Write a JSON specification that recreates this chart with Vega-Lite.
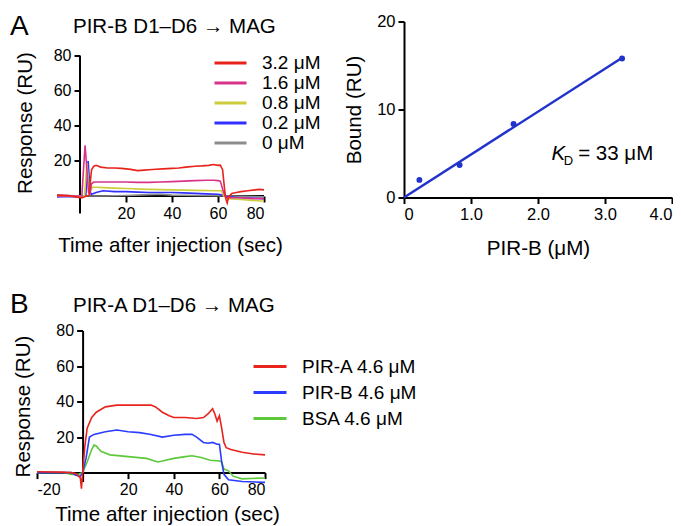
{
  "$schema": "https://vega.github.io/schema/vega-lite/v6.json",
  "padding": {"left": 10, "top": 12.5, "right": 0, "bottom": 0},
  "background": "white",
  "config": {
    "font": "Liberation Sans",
    "view": {"stroke": null},
    "axis": {"labelFont": "Liberation Sans", "labelFontSize": 16, "titleFont": "Liberation Sans", "titleFontSize": 20.6, "titleFontWeight": "normal", "labelColor": "black", "titleColor": "black", "domainColor": "black", "domainWidth": 2, "tickColor": "black", "tickWidth": 2, "tickSize": 6, "grid": false, "labelPadding": 3},
    "legend": {"labelFont": "Liberation Sans", "labelFontSize": 19, "labelColor": "black", "symbolType": "M-2,0H2", "symbolStrokeWidth": 3, "labelOffset": 22},
    "title": {"font": "Liberation Sans", "fontWeight": "normal", "color": "black", "offset": 0, "baseline": "alphabetic", "anchor": "start", "frame": "group"}
  },
  "bounds": "flush",
  "spacing": 309,
  "resolve": {"scale": {"color": "independent", "x": "independent", "y": "independent"}, "legend": {"color": "independent"}},
  "vconcat": [
    {
      "title": {"text": "A", "fontSize": 28, "dx": -27, "dy": 31},
      "bounds": "flush",
      "spacing": 140,
      "resolve": {"scale": {"color": "independent", "x": "independent", "y": "independent"}, "legend": {"color": "independent"}},
      "hconcat": [
        {
          "width": 227,
          "height": 192,
          "title": {"text": "PIR-B D1–D6 → MAG", "fontSize": 20.5, "dx": 36, "dy": 20},
          "layer": [
            {
              "data": {"values": [{}]},
              "mark": {"type": "rule", "color": "black", "strokeWidth": 2},
              "encoding": {"x": {"datum": -10, "type": "quantitative"}, "x2": {"datum": 80}, "y": {"datum": 0, "type": "quantitative"}}
            },
            {
              "data": {"values": [{}]},
              "mark": {"type": "rule", "color": "black", "strokeWidth": 2},
              "encoding": {"x": {"datum": 0, "type": "quantitative"}, "y": {"datum": -10, "type": "quantitative"}, "y2": {"datum": 80}}
            },
            {
              "data": {"values": [
                {"s": "0 μM", "t": -10, "v": 0.5}, {"s": "0 μM", "t": -5, "v": 0.2}, {"s": "0 μM", "t": 0, "v": 0}, {"s": "0 μM", "t": 5, "v": 0}, {"s": "0 μM", "t": 10, "v": 0}, {"s": "0 μM", "t": 20, "v": 0.3}, {"s": "0 μM", "t": 30, "v": 0.8}, {"s": "0 μM", "t": 35, "v": 1}, {"s": "0 μM", "t": 40, "v": 0.5}, {"s": "0 μM", "t": 50, "v": 0.3}, {"s": "0 μM", "t": 60, "v": 0.2}, {"s": "0 μM", "t": 65, "v": 0}, {"s": "0 μM", "t": 80, "v": -0.5},
                {"s": "0.2 μM", "t": -10, "v": -0.5}, {"s": "0.2 μM", "t": -5, "v": -0.3}, {"s": "0.2 μM", "t": 0, "v": -0.5}, {"s": "0.2 μM", "t": 2.5, "v": 0}, {"s": "0.2 μM", "t": 3.5, "v": 20}, {"s": "0.2 μM", "t": 4.5, "v": 2}, {"s": "0.2 μM", "t": 5, "v": 1}, {"s": "0.2 μM", "t": 7, "v": 2}, {"s": "0.2 μM", "t": 10, "v": 3}, {"s": "0.2 μM", "t": 15, "v": 2.5}, {"s": "0.2 μM", "t": 20, "v": 2.5}, {"s": "0.2 μM", "t": 25, "v": 2.2}, {"s": "0.2 μM", "t": 30, "v": 2}, {"s": "0.2 μM", "t": 35, "v": 2}, {"s": "0.2 μM", "t": 40, "v": 2}, {"s": "0.2 μM", "t": 45, "v": 1.8}, {"s": "0.2 μM", "t": 50, "v": 1.5}, {"s": "0.2 μM", "t": 55, "v": 1.2}, {"s": "0.2 μM", "t": 60, "v": 1}, {"s": "0.2 μM", "t": 62, "v": 0.5}, {"s": "0.2 μM", "t": 64, "v": -0.5}, {"s": "0.2 μM", "t": 70, "v": -1}, {"s": "0.2 μM", "t": 80, "v": -1.5},
                {"s": "0.8 μM", "t": -10, "v": 0}, {"s": "0.8 μM", "t": 0, "v": 0}, {"s": "0.8 μM", "t": 2, "v": 0}, {"s": "0.8 μM", "t": 3, "v": 19}, {"s": "0.8 μM", "t": 4, "v": 4}, {"s": "0.8 μM", "t": 4.5, "v": 3}, {"s": "0.8 μM", "t": 5.5, "v": 5}, {"s": "0.8 μM", "t": 7, "v": 5}, {"s": "0.8 μM", "t": 10, "v": 4.8}, {"s": "0.8 μM", "t": 15, "v": 4.5}, {"s": "0.8 μM", "t": 20, "v": 4.3}, {"s": "0.8 μM", "t": 30, "v": 3.8}, {"s": "0.8 μM", "t": 40, "v": 3.5}, {"s": "0.8 μM", "t": 50, "v": 3.2}, {"s": "0.8 μM", "t": 60, "v": 3}, {"s": "0.8 μM", "t": 61.5, "v": 3}, {"s": "0.8 μM", "t": 62.5, "v": 0}, {"s": "0.8 μM", "t": 64, "v": -1.5}, {"s": "0.8 μM", "t": 70, "v": -2}, {"s": "0.8 μM", "t": 75, "v": -2.5}, {"s": "0.8 μM", "t": 80, "v": -3},
                {"s": "1.6 μM", "t": -10, "v": 0}, {"s": "1.6 μM", "t": -3, "v": 0}, {"s": "1.6 μM", "t": 0.8, "v": 0}, {"s": "1.6 μM", "t": 1.5, "v": 15}, {"s": "1.6 μM", "t": 2.2, "v": 29}, {"s": "1.6 μM", "t": 3, "v": 15}, {"s": "1.6 μM", "t": 3.7, "v": 2}, {"s": "1.6 μM", "t": 4.3, "v": 1}, {"s": "1.6 μM", "t": 5, "v": 7}, {"s": "1.6 μM", "t": 6, "v": 8}, {"s": "1.6 μM", "t": 10, "v": 8}, {"s": "1.6 μM", "t": 15, "v": 8}, {"s": "1.6 μM", "t": 20, "v": 8}, {"s": "1.6 μM", "t": 25, "v": 7.8}, {"s": "1.6 μM", "t": 30, "v": 7.8}, {"s": "1.6 μM", "t": 35, "v": 8}, {"s": "1.6 μM", "t": 40, "v": 8.2}, {"s": "1.6 μM", "t": 45, "v": 8.5}, {"s": "1.6 μM", "t": 50, "v": 8.8}, {"s": "1.6 μM", "t": 55, "v": 9}, {"s": "1.6 μM", "t": 58, "v": 9}, {"s": "1.6 μM", "t": 60, "v": 8.8}, {"s": "1.6 μM", "t": 61, "v": 8.5}, {"s": "1.6 μM", "t": 62, "v": 4}, {"s": "1.6 μM", "t": 63, "v": 0}, {"s": "1.6 μM", "t": 64, "v": -1}, {"s": "1.6 μM", "t": 70, "v": -1}, {"s": "1.6 μM", "t": 75, "v": -1.5}, {"s": "1.6 μM", "t": 80, "v": -1.5},
                {"s": "3.2 μM", "t": -10, "v": 0.5}, {"s": "3.2 μM", "t": -5, "v": 0.2}, {"s": "3.2 μM", "t": -2, "v": -0.5}, {"s": "3.2 μM", "t": 0, "v": -1}, {"s": "3.2 μM", "t": 1, "v": -1}, {"s": "3.2 μM", "t": 2, "v": -0.5}, {"s": "3.2 μM", "t": 3, "v": 0}, {"s": "3.2 μM", "t": 4, "v": 0.5}, {"s": "3.2 μM", "t": 4.5, "v": 8}, {"s": "3.2 μM", "t": 5, "v": 15}, {"s": "3.2 μM", "t": 6, "v": 17}, {"s": "3.2 μM", "t": 7, "v": 17.5}, {"s": "3.2 μM", "t": 9, "v": 16.5}, {"s": "3.2 μM", "t": 12, "v": 16}, {"s": "3.2 μM", "t": 15, "v": 16}, {"s": "3.2 μM", "t": 18, "v": 15.8}, {"s": "3.2 μM", "t": 20, "v": 15.5}, {"s": "3.2 μM", "t": 22, "v": 15.2}, {"s": "3.2 μM", "t": 25, "v": 14.5}, {"s": "3.2 μM", "t": 28, "v": 14.8}, {"s": "3.2 μM", "t": 30, "v": 15}, {"s": "3.2 μM", "t": 33, "v": 15.3}, {"s": "3.2 μM", "t": 36, "v": 15.5}, {"s": "3.2 μM", "t": 40, "v": 15.8}, {"s": "3.2 μM", "t": 43, "v": 16}, {"s": "3.2 μM", "t": 46, "v": 16.5}, {"s": "3.2 μM", "t": 50, "v": 17}, {"s": "3.2 μM", "t": 53, "v": 17.2}, {"s": "3.2 μM", "t": 56, "v": 17.5}, {"s": "3.2 μM", "t": 58, "v": 18}, {"s": "3.2 μM", "t": 60, "v": 17.5}, {"s": "3.2 μM", "t": 61, "v": 17.6}, {"s": "3.2 μM", "t": 62, "v": 15}, {"s": "3.2 μM", "t": 63, "v": 2}, {"s": "3.2 μM", "t": 63.5, "v": -2}, {"s": "3.2 μM", "t": 64, "v": -4}, {"s": "3.2 μM", "t": 64.5, "v": -1}, {"s": "3.2 μM", "t": 65, "v": 0}, {"s": "3.2 μM", "t": 66, "v": 1.5}, {"s": "3.2 μM", "t": 68, "v": 2}, {"s": "3.2 μM", "t": 70, "v": 2.5}, {"s": "3.2 μM", "t": 73, "v": 3}, {"s": "3.2 μM", "t": 76, "v": 3.5}, {"s": "3.2 μM", "t": 78, "v": 3.8}, {"s": "3.2 μM", "t": 80, "v": 3.5}
              ]},
              "mark": {"type": "line", "strokeWidth": 1.6},
              "encoding": {
                "x": {"field": "t", "type": "quantitative", "scale": {"domain": [-18.7, 80], "nice": false}, "axis": {"values": [20, 40, 60, 80], "domain": false, "offset": -17.5, "title": "Time after injection (sec)", "titleX": 133, "titlePadding": 14}},
                "y": {"field": "v", "type": "quantitative", "scale": {"domain": [-10, 99.7], "nice": false}, "axis": {"values": [20, 40, 60, 80], "domain": false, "offset": -43, "title": "Response (RU)", "titleY": 101, "titlePadding": 18}},
                "color": {"field": "s", "type": "nominal", "scale": {"domain": ["3.2 μM", "1.6 μM", "0.8 μM", "0.2 μM", "0 μM"], "range": ["#e8231b", "#d8338a", "#cccc3c", "#3030ff", "#8c8c8c"]}, "legend": {"title": null, "orient": "none", "legendX": 184, "legendY": 32, "symbolSize": 256, "rowPadding": -1}}
              }
            }
          ]
        },
        {
          "width": 268,
          "height": 176,
          "layer": [
            {
              "data": {"values": [{"c": 0, "b": 0}, {"c": 3.25, "b": 15.85}]},
              "mark": {"type": "line", "color": "#2233cc", "strokeWidth": 2.5},
              "encoding": {
                "x": {"field": "c", "type": "quantitative", "scale": {"domain": [0, 4], "nice": false}, "axis": {"values": [0, 1, 2, 3, 4], "labelFontSize": 16.5, "labelExpr": "datum.value == 0 ? '0' : format(datum.value, '.1f')", "title": "PIR-B (μM)", "titlePadding": 15}},
                "y": {"field": "b", "type": "quantitative", "scale": {"domain": [0, 20], "nice": false}, "axis": {"values": [0, 10, 20], "labelFontSize": 16.5, "title": "Bound (RU)", "titlePadding": 12}}
              }
            },
            {
              "data": {"values": [{"c": 0.23, "b": 2.0}, {"c": 0.83, "b": 3.7}, {"c": 1.635, "b": 8.35}, {"c": 3.255, "b": 15.8}]},
              "mark": {"type": "circle", "color": "#2233cc", "size": 35, "opacity": 1},
              "encoding": {"x": {"field": "c", "type": "quantitative"}, "y": {"field": "b", "type": "quantitative"}}
            },
            {
              "data": {"values": [{}]},
              "mark": {"type": "text", "text": "K", "fontStyle": "italic", "fontSize": 20.5, "align": "left", "baseline": "middle", "color": "black"},
              "encoding": {"x": {"datum": 2.2, "type": "quantitative"}, "y": {"datum": 5.0, "type": "quantitative"}}
            },
            {
              "data": {"values": [{}]},
              "mark": {"type": "text", "text": "D", "fontSize": 13, "align": "left", "baseline": "middle", "color": "black"},
              "encoding": {"x": {"datum": 2.385, "type": "quantitative"}, "y": {"datum": 4.2, "type": "quantitative"}}
            },
            {
              "data": {"values": [{}]},
              "mark": {"type": "text", "text": "= 33 μM", "fontSize": 20.5, "align": "left", "baseline": "middle", "color": "black"},
              "encoding": {"x": {"datum": 2.6, "type": "quantitative"}, "y": {"datum": 5.0, "type": "quantitative"}}
            }
          ]
        }
      ]
    },
    {
      "title": {"text": "B", "fontSize": 28, "dx": -27, "dy": 27},
      "bounds": "flush",
      "hconcat": [
        {
          "width": 228,
          "height": 151,
          "title": {"text": "PIR-A D1–D6 → MAG", "fontSize": 20.5, "dx": 36, "dy": -2},
          "data": {"values": [
            {"s": "BSA 4.6 μM", "t": -20, "v": 0}, {"s": "BSA 4.6 μM", "t": -8, "v": 0}, {"s": "BSA 4.6 μM", "t": -5, "v": -1}, {"s": "BSA 4.6 μM", "t": -2, "v": -1}, {"s": "BSA 4.6 μM", "t": 0, "v": 0}, {"s": "BSA 4.6 μM", "t": 2, "v": 6}, {"s": "BSA 4.6 μM", "t": 4, "v": 13}, {"s": "BSA 4.6 μM", "t": 5, "v": 15.5}, {"s": "BSA 4.6 μM", "t": 6, "v": 15}, {"s": "BSA 4.6 μM", "t": 8, "v": 12}, {"s": "BSA 4.6 μM", "t": 12, "v": 10}, {"s": "BSA 4.6 μM", "t": 20, "v": 9}, {"s": "BSA 4.6 μM", "t": 28, "v": 8}, {"s": "BSA 4.6 μM", "t": 33, "v": 6}, {"s": "BSA 4.6 μM", "t": 35, "v": 6.5}, {"s": "BSA 4.6 μM", "t": 40, "v": 8}, {"s": "BSA 4.6 μM", "t": 45, "v": 9}, {"s": "BSA 4.6 μM", "t": 48, "v": 9.5}, {"s": "BSA 4.6 μM", "t": 52, "v": 8.5}, {"s": "BSA 4.6 μM", "t": 56, "v": 7}, {"s": "BSA 4.6 μM", "t": 60, "v": 6.5}, {"s": "BSA 4.6 μM", "t": 61, "v": 6}, {"s": "BSA 4.6 μM", "t": 62, "v": 2}, {"s": "BSA 4.6 μM", "t": 64, "v": 1}, {"s": "BSA 4.6 μM", "t": 66, "v": -2}, {"s": "BSA 4.6 μM", "t": 70, "v": -3.5}, {"s": "BSA 4.6 μM", "t": 80, "v": -3},
            {"s": "PIR-B 4.6 μM", "t": -20, "v": 0}, {"s": "PIR-B 4.6 μM", "t": -5, "v": 0}, {"s": "PIR-B 4.6 μM", "t": -3, "v": -1.5}, {"s": "PIR-B 4.6 μM", "t": -1, "v": -2}, {"s": "PIR-B 4.6 μM", "t": 0, "v": 0}, {"s": "PIR-B 4.6 μM", "t": 1.5, "v": 8}, {"s": "PIR-B 4.6 μM", "t": 3, "v": 20}, {"s": "PIR-B 4.6 μM", "t": 5, "v": 21.5}, {"s": "PIR-B 4.6 μM", "t": 10, "v": 23}, {"s": "PIR-B 4.6 μM", "t": 15, "v": 24}, {"s": "PIR-B 4.6 μM", "t": 20, "v": 23}, {"s": "PIR-B 4.6 μM", "t": 25, "v": 22.5}, {"s": "PIR-B 4.6 μM", "t": 30, "v": 21.5}, {"s": "PIR-B 4.6 μM", "t": 35, "v": 20}, {"s": "PIR-B 4.6 μM", "t": 40, "v": 21}, {"s": "PIR-B 4.6 μM", "t": 45, "v": 21.5}, {"s": "PIR-B 4.6 μM", "t": 48, "v": 21.5}, {"s": "PIR-B 4.6 μM", "t": 50, "v": 20}, {"s": "PIR-B 4.6 μM", "t": 53, "v": 17}, {"s": "PIR-B 4.6 μM", "t": 55, "v": 16.5}, {"s": "PIR-B 4.6 μM", "t": 57, "v": 17}, {"s": "PIR-B 4.6 μM", "t": 59, "v": 16}, {"s": "PIR-B 4.6 μM", "t": 60, "v": 16}, {"s": "PIR-B 4.6 μM", "t": 61, "v": 6}, {"s": "PIR-B 4.6 μM", "t": 62, "v": -1}, {"s": "PIR-B 4.6 μM", "t": 64, "v": -4}, {"s": "PIR-B 4.6 μM", "t": 70, "v": -5}, {"s": "PIR-B 4.6 μM", "t": 80, "v": -5.5},
            {"s": "PIR-A 4.6 μM", "t": -20, "v": 0.5}, {"s": "PIR-A 4.6 μM", "t": -10, "v": 0.3}, {"s": "PIR-A 4.6 μM", "t": -5, "v": 0}, {"s": "PIR-A 4.6 μM", "t": -3, "v": -0.5}, {"s": "PIR-A 4.6 μM", "t": -1, "v": -3}, {"s": "PIR-A 4.6 μM", "t": -0.5, "v": -9}, {"s": "PIR-A 4.6 μM", "t": 0, "v": 0}, {"s": "PIR-A 4.6 μM", "t": 1, "v": 15}, {"s": "PIR-A 4.6 μM", "t": 2, "v": 25}, {"s": "PIR-A 4.6 μM", "t": 4, "v": 31}, {"s": "PIR-A 4.6 μM", "t": 6, "v": 34}, {"s": "PIR-A 4.6 μM", "t": 10, "v": 37}, {"s": "PIR-A 4.6 μM", "t": 15, "v": 38}, {"s": "PIR-A 4.6 μM", "t": 20, "v": 38}, {"s": "PIR-A 4.6 μM", "t": 30, "v": 38}, {"s": "PIR-A 4.6 μM", "t": 32, "v": 37}, {"s": "PIR-A 4.6 μM", "t": 35, "v": 34}, {"s": "PIR-A 4.6 μM", "t": 38, "v": 32}, {"s": "PIR-A 4.6 μM", "t": 40, "v": 31}, {"s": "PIR-A 4.6 μM", "t": 45, "v": 31}, {"s": "PIR-A 4.6 μM", "t": 50, "v": 30.5}, {"s": "PIR-A 4.6 μM", "t": 53, "v": 31}, {"s": "PIR-A 4.6 μM", "t": 55, "v": 33}, {"s": "PIR-A 4.6 μM", "t": 57, "v": 36}, {"s": "PIR-A 4.6 μM", "t": 58, "v": 33}, {"s": "PIR-A 4.6 μM", "t": 59, "v": 29}, {"s": "PIR-A 4.6 μM", "t": 60, "v": 32}, {"s": "PIR-A 4.6 μM", "t": 61, "v": 25}, {"s": "PIR-A 4.6 μM", "t": 62, "v": 17}, {"s": "PIR-A 4.6 μM", "t": 63, "v": 14}, {"s": "PIR-A 4.6 μM", "t": 65, "v": 13}, {"s": "PIR-A 4.6 μM", "t": 70, "v": 11.5}, {"s": "PIR-A 4.6 μM", "t": 75, "v": 10.5}, {"s": "PIR-A 4.6 μM", "t": 80, "v": 10}
          ]},
          "mark": {"type": "line", "strokeWidth": 1.6},
          "encoding": {
            "x": {"field": "t", "type": "quantitative", "scale": {"domain": [-20, 80], "nice": false}, "axis": {"values": [-20, 20, 40, 60, 80], "labelExpr": "replace(datum.label, '−', '-')", "offset": -8.9, "title": "Time after injection (sec)", "titleX": 130, "titlePadding": 7}},
            "y": {"field": "v", "type": "quantitative", "scale": {"domain": [-5, 80], "nice": false}, "axis": {"values": [20, 40, 60, 80], "offset": -45.6, "title": "Response (RU)", "titlePadding": 22}},
            "color": {"field": "s", "type": "nominal", "scale": {"domain": ["PIR-A 4.6 μM", "PIR-B 4.6 μM", "BSA 4.6 μM"], "range": ["#e8231b", "#2a3cff", "#5cc83a"]}, "legend": {"title": null, "orient": "none", "legendX": 223, "legendY": 26, "symbolSize": 272, "rowPadding": 6}}
          }
        }
      ]
    }
  ]
}
